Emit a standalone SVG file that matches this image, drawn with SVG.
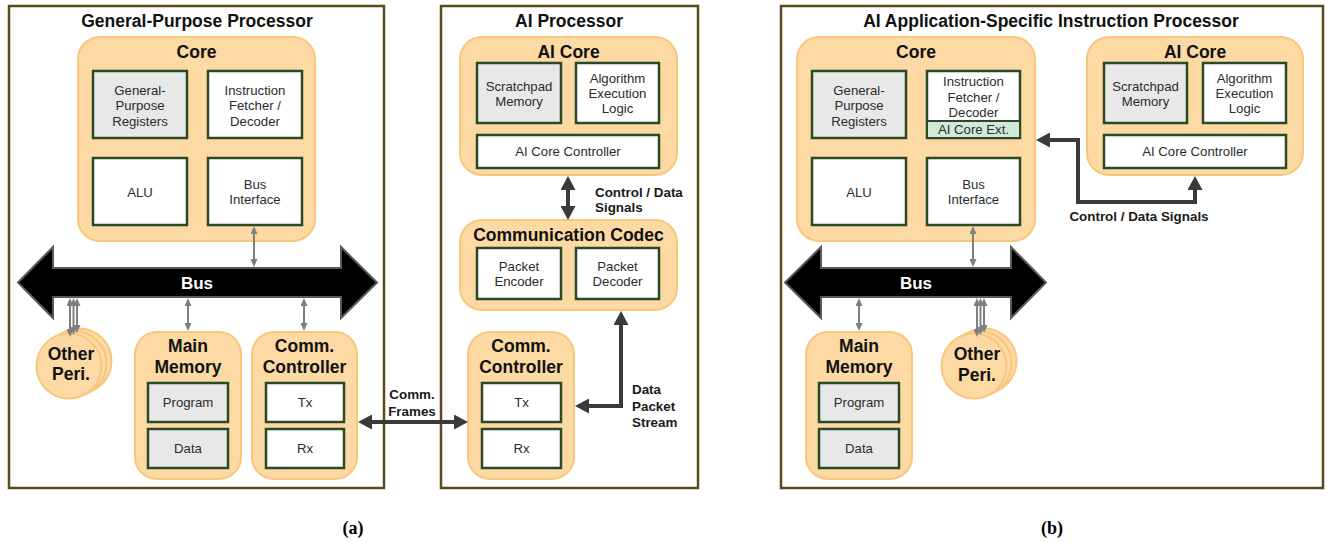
<svg xmlns="http://www.w3.org/2000/svg" width="1327" height="543" viewBox="0 0 1327 543">
<style>
.frame{fill:#fff;stroke:#5B4A20;stroke-width:2.5}
.org{fill:#FDD9A3;stroke:#F9C67E;stroke-width:2}
.box{fill:#fff;stroke:#2A4A27;stroke-width:2.5}
.gbox{fill:#E8E8E8;stroke:#2A4A27;stroke-width:2.5}
.ext{fill:#D2E8D8;stroke:#2A4A27;stroke-width:2}
.bus{fill:#000;stroke:#5A5A5A;stroke-width:2}
.title{font-family:"Liberation Sans",Arial,sans-serif;font-weight:bold;font-size:17.5px;fill:#111;text-anchor:middle}
.busT{font-family:"Liberation Sans",Arial,sans-serif;font-weight:bold;font-size:17px;fill:#fff;text-anchor:middle}
.t{font-family:"Liberation Sans",Arial,sans-serif;font-size:13.2px;fill:#2b2b2b;text-anchor:middle}
.lbl{font-family:"Liberation Sans",Arial,sans-serif;font-weight:bold;font-size:13.4px;fill:#1a1a1a}
.cap{font-family:"Liberation Serif","Times New Roman",serif;font-weight:bold;font-size:18px;fill:#000;text-anchor:middle}
.gl{stroke:#7F7F7F;stroke-width:2;fill:none;marker-start:url(#ga);marker-end:url(#ga)}
.dl{stroke:#3A3A3A;stroke-width:4;fill:none;marker-start:url(#da);marker-end:url(#da)}
</style>
<defs>
<marker id="ga" viewBox="0 0 8 7" refX="3" refY="3.5" markerWidth="8" markerHeight="7" markerUnits="userSpaceOnUse" orient="auto-start-reverse">
<path d="M0,0 L8,3.5 L0,7 z" fill="#7F7F7F"/>
</marker>
<marker id="da" viewBox="0 0 14 15" refX="5" refY="7.5" markerWidth="14" markerHeight="15" markerUnits="userSpaceOnUse" orient="auto-start-reverse">
<path d="M0,0 L14,7.5 L0,15 z" fill="#3A3A3A"/>
</marker>
</defs>
<rect width="1327" height="543" fill="#fff"/>

<!-- Panel (a) left: General-Purpose Processor -->
<g id="gpp">
<rect class="frame" x="9" y="6" width="375" height="482"/>
<text class="title" x="197" y="27">General-Purpose Processor</text>
</g>
<g id="gpp-core">
<rect class="org" x="78" y="37" width="237" height="204" rx="22"/>
<text class="title" x="196.5" y="58">Core</text>
</g>
<g id="gpp-gpr">
<rect class="gbox" x="93" y="71" width="94" height="67"/>
<text class="t" x="140" y="95">General-</text>
<text class="t" x="140" y="110.3">Purpose</text>
<text class="t" x="140" y="125.6">Registers</text>
</g>
<g id="gpp-ifd">
<rect class="box" x="208" y="71" width="94" height="67"/>
<text class="t" x="255" y="95">Instruction</text>
<text class="t" x="255" y="110.3">Fetcher /</text>
<text class="t" x="255" y="125.6">Decoder</text>
</g>
<g id="gpp-alu">
<rect class="box" x="93" y="158" width="94" height="67"/>
<text class="t" x="140" y="196.5">ALU</text>
</g>
<g id="gpp-busif">
<rect class="box" x="208" y="158" width="94" height="67"/>
<text class="t" x="255" y="188.7">Bus</text>
<text class="t" x="255" y="204">Interface</text>
</g>
<g id="gpp-bus">
<polygon class="bus" points="18,282.5 53,247 53,268 341,268 341,247 377,282.5 341,318 341,297 53,297 53,318"/>
<text class="busT" x="197" y="288.5">Bus</text>
</g>
<g id="gpp-peri">
<circle class="org" cx="79" cy="361" r="32.5"/>
<circle class="org" cx="74" cy="363.5" r="32.5"/>
<circle class="org" cx="69" cy="366" r="32.5"/>
<text class="title" x="71" y="360">Other</text>
<text class="title" x="71" y="380">Peri.</text>
</g>
<g id="gpp-mem">
<rect class="org" x="135" y="332" width="106" height="147" rx="22"/>
<text class="title" x="188" y="352.3">Main</text>
<text class="title" x="188" y="372.8">Memory</text>
</g>
<g id="gpp-prog">
<rect class="gbox" x="148" y="383" width="80" height="39"/>
<text class="t" x="188" y="407">Program</text>
</g>
<g id="gpp-data">
<rect class="gbox" x="148" y="429" width="80" height="39"/>
<text class="t" x="188" y="453.2">Data</text>
</g>
<g id="gpp-comm">
<rect class="org" x="252" y="332" width="105" height="147" rx="22"/>
<text class="title" x="304.5" y="352.3">Comm.</text>
<text class="title" x="304.5" y="372.8">Controller</text>
</g>
<g id="gpp-tx">
<rect class="box" x="266" y="383" width="78" height="39"/>
<text class="t" x="305" y="407">Tx</text>
</g>
<g id="gpp-rx">
<rect class="box" x="266" y="429" width="78" height="39"/>
<text class="t" x="305" y="453.2">Rx</text>
</g>

<!-- Panel (a) right: AI Processor -->
<g id="aip">
<rect class="frame" x="441" y="6" width="257" height="482"/>
<text class="title" x="569" y="27">AI Processor</text>
</g>
<g id="aip-core">
<rect class="org" x="460" y="37" width="217" height="138" rx="22"/>
<text class="title" x="568.5" y="58">AI Core</text>
</g>
<g id="aip-scratch">
<rect class="gbox" x="477" y="63" width="84" height="60"/>
<text class="t" x="519" y="90.5">Scratchpad</text>
<text class="t" x="519" y="105.8">Memory</text>
</g>
<g id="aip-algo">
<rect class="box" x="576" y="63" width="83" height="60"/>
<text class="t" x="617.5" y="82.8">Algorithm</text>
<text class="t" x="617.5" y="98.1">Execution</text>
<text class="t" x="617.5" y="113.4">Logic</text>
</g>
<g id="aip-ctrl">
<rect class="box" x="477" y="135" width="182" height="33"/>
<text class="t" x="568" y="156.2">AI Core Controller</text>
</g>
<g id="aip-codec">
<rect class="org" x="460" y="220" width="217" height="90" rx="22"/>
<text class="title" x="568.5" y="240.7">Communication Codec</text>
</g>
<g id="aip-enc">
<rect class="box" x="477" y="248" width="84" height="51"/>
<text class="t" x="519" y="270.6">Packet</text>
<text class="t" x="519" y="285.9">Encoder</text>
</g>
<g id="aip-dec">
<rect class="box" x="576" y="248" width="83" height="51"/>
<text class="t" x="617.5" y="270.6">Packet</text>
<text class="t" x="617.5" y="285.9">Decoder</text>
</g>
<g id="aip-comm">
<rect class="org" x="468" y="332" width="106" height="147" rx="22"/>
<text class="title" x="521" y="352.3">Comm.</text>
<text class="title" x="521" y="372.8">Controller</text>
</g>
<g id="aip-tx">
<rect class="box" x="482" y="383" width="79" height="39"/>
<text class="t" x="521.5" y="407">Tx</text>
</g>
<g id="aip-rx">
<rect class="box" x="482" y="429" width="79" height="39"/>
<text class="t" x="521.5" y="453.2">Rx</text>
</g>

<!-- Panel (b): AI ASIP -->
<g id="asip">
<rect class="frame" x="781" y="6" width="542" height="482"/>
<text class="title" x="1051" y="27">AI Application-Specific Instruction Processor</text>
</g>
<g id="asip-core">
<rect class="org" x="797" y="37" width="238" height="204" rx="22"/>
<text class="title" x="916" y="58">Core</text>
</g>
<g id="asip-gpr">
<rect class="gbox" x="812" y="71" width="94" height="67"/>
<text class="t" x="859" y="95">General-</text>
<text class="t" x="859" y="110.3">Purpose</text>
<text class="t" x="859" y="125.6">Registers</text>
</g>
<g id="asip-ifd">
<rect class="box" x="927" y="71" width="93" height="67"/>
<text class="t" x="973.5" y="86">Instruction</text>
<text class="t" x="973.5" y="101.5">Fetcher /</text>
<text class="t" x="973.5" y="117">Decoder</text>
<rect class="ext" x="927" y="121" width="93" height="17"/>
<text class="t" x="973.5" y="134">AI Core Ext.</text>
</g>
<g id="asip-alu">
<rect class="box" x="812" y="158" width="94" height="67"/>
<text class="t" x="859" y="196.5">ALU</text>
</g>
<g id="asip-busif">
<rect class="box" x="927" y="158" width="93" height="67"/>
<text class="t" x="973.5" y="188.7">Bus</text>
<text class="t" x="973.5" y="204">Interface</text>
</g>
<g id="asip-aicore">
<rect class="org" x="1087" y="37" width="216" height="138" rx="22"/>
<text class="title" x="1195" y="58">AI Core</text>
</g>
<g id="asip-scratch">
<rect class="gbox" x="1104" y="63" width="83" height="60"/>
<text class="t" x="1145.5" y="90.5">Scratchpad</text>
<text class="t" x="1145.5" y="105.8">Memory</text>
</g>
<g id="asip-algo">
<rect class="box" x="1203" y="63" width="83" height="60"/>
<text class="t" x="1244.5" y="82.8">Algorithm</text>
<text class="t" x="1244.5" y="98.1">Execution</text>
<text class="t" x="1244.5" y="113.4">Logic</text>
</g>
<g id="asip-ctrl">
<rect class="box" x="1104" y="135" width="182" height="33"/>
<text class="t" x="1195" y="156.2">AI Core Controller</text>
</g>
<g id="asip-bus">
<polygon class="bus" points="785,282.5 821,247 821,268 1011,268 1011,247 1046,282.5 1011,318 1011,297 821,297 821,318"/>
<text class="busT" x="916" y="288.5">Bus</text>
</g>
<g id="asip-mem">
<rect class="org" x="806" y="332" width="106" height="147" rx="22"/>
<text class="title" x="859" y="352.3">Main</text>
<text class="title" x="859" y="372.8">Memory</text>
</g>
<g id="asip-prog">
<rect class="gbox" x="819" y="383" width="80" height="39"/>
<text class="t" x="859" y="407">Program</text>
</g>
<g id="asip-data">
<rect class="gbox" x="819" y="429" width="80" height="39"/>
<text class="t" x="859" y="453.2">Data</text>
</g>
<g id="asip-peri">
<circle class="org" cx="984" cy="361" r="32.5"/>
<circle class="org" cx="979" cy="363.5" r="32.5"/>
<circle class="org" cx="974" cy="366" r="32.5"/>
<text class="title" x="977" y="360">Other</text>
<text class="title" x="977" y="380.5">Peri.</text>
</g>

<!-- Connectors -->
<g id="connectors">
<line class="gl" x1="254" y1="231" x2="254" y2="262"/>
<line class="gl" x1="188" y1="303" x2="188" y2="326"/>
<line class="gl" x1="304" y1="303" x2="304" y2="326"/>
<line class="gl" x1="77" y1="303" x2="77" y2="328"/>
<line class="gl" x1="73.5" y1="303" x2="73.5" y2="330"/>
<line class="gl" x1="70" y1="303" x2="70" y2="332"/>
<line class="dl" x1="367" y1="422" x2="459" y2="422"/>
<line class="dl" x1="568" y1="185" x2="568" y2="211"/>
<polyline class="dl" points="584,406 621,406 621,320"/>
<line class="gl" x1="973" y1="231" x2="973" y2="262"/>
<line class="gl" x1="859" y1="303" x2="859" y2="326"/>
<line class="gl" x1="984" y1="303" x2="984" y2="328"/>
<line class="gl" x1="980.5" y1="303" x2="980.5" y2="330"/>
<line class="gl" x1="977" y1="303" x2="977" y2="332"/>
<polyline class="dl" points="1045,140 1078,140 1078,202 1195,202 1195,185"/>
</g>

<!-- Connector labels -->
<g id="labels">
<text class="lbl" x="412" y="399.3" text-anchor="middle">Comm.</text>
<text class="lbl" x="412" y="415.7" text-anchor="middle">Frames</text>
<text class="lbl" x="595" y="196.7">Control / Data</text>
<text class="lbl" x="595" y="212.3">Signals</text>
<text class="lbl" x="632" y="394">Data</text>
<text class="lbl" x="632" y="410.5">Packet</text>
<text class="lbl" x="632" y="427">Stream</text>
<text class="lbl" x="1139" y="220.5" text-anchor="middle">Control / Data Signals</text>
<text class="cap" x="353" y="534">(a)</text>
<text class="cap" x="1052" y="534">(b)</text>
</g>
</svg>
